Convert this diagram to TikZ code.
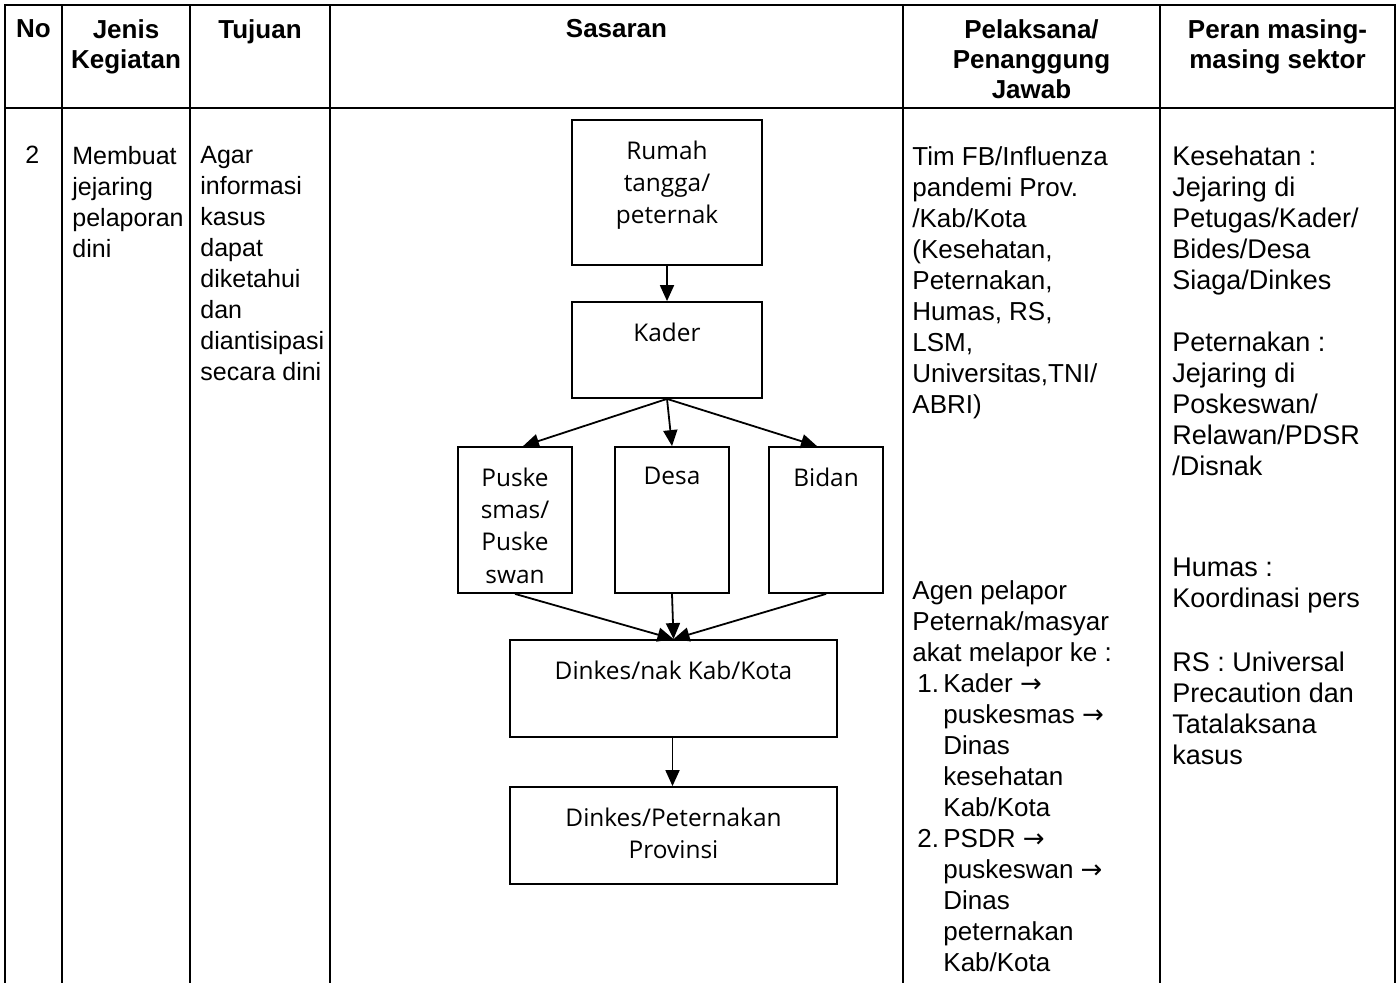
\documentclass[tikz,border=0pt]{standalone}
\usepackage{fontspec}
\setmainfont{Liberation Sans}
\newfontfamily\flowfont{Open Sans}
\newfontfamily\symfont{DejaVu Sans}
\usetikzlibrary{arrows.meta}
\newcommand{\isiteks}{\fontsize{12.5pt}{15.5pt}\selectfont}
\newcommand{\isilebar}{\fontsize{13pt}{15.5pt}\selectfont}
\newcommand{\isiperan}{\fontsize{13.5pt}{15.5pt}\selectfont}
\newcommand{\kepalateks}{\fontsize{13pt}{15pt}\selectfont\bfseries}
\newcommand{\bagan}{\flowfont\fontsize{12.2pt}{16.2pt}\selectfont}
\newcommand{\ke}{{\symfont →}}

\begin{document}
\begin{tikzpicture}[x=0.5pt, y=-0.5pt,
kepala/.style={anchor=north, align=center, font=\kepalateks, inner sep=0pt},
isi/.style={anchor=north west, align=left, font=\isiteks, inner sep=0pt},
kotak/.style={draw, line width=0.9pt, inner sep=0pt},
judul/.style={anchor=north, yshift=-10.5pt, align=center, font=\bagan, inner sep=0pt},
panah/.style={-{Triangle[length=8pt,width=7pt]}, line width=0.9pt}
]
\useasboundingbox (0,0) rectangle (1400,983);

    \draw [line width=1.1pt] (5,983) -- (5,5) -- (1395,5) -- (1395,983);
    \draw [line width=1.1pt] (5,108) -- (1395,108);
    \foreach \x in {62,190,330,903,1160}
        \draw [line width=1.1pt] (\x,5) -- (\x,983);

    \node [kepala] (hno) at (33.5,19) {No};
    \node [kepala] (hjenis) at (126,19) {Jenis\\Kegiatan};
    \node [kepala] (htujuan) at (260,19) {Tujuan};
    \node [kepala] (hsasaran) at (616.5,19) {Sasaran};
    \node [kepala] (hpelaksana) at (1031.5,19) {Pelaksana/\\Penanggung\\Jawab};
    \node [kepala] (hperan) at (1277.5,19) {Peran masing-\\masing sektor};

    \node [isi] (no) at (25,146) {2};
    \node [isi] (jenis) at (72,146) {Membuat\\jejaring\\pelaporan\\dini};
    \node [isi] (tujuan) at (200,146) {Agar\\informasi\\kasus\\dapat\\diketahui\\dan\\diantisipasi\\secara dini};

    \node [isi, font=\isilebar] (tim) at (912,146) {Tim FB/Influenza\\pandemi Prov.\\/Kab/Kota\\(Kesehatan,\\Peternakan,\\Humas, RS,\\LSM,\\Universitas,TNI/\\ABRI)};
    \node [isi, font=\isilebar] (agen) at (912,580) {Agen pelapor\\Peternak/masyar\\akat melapor ke :\\
        \hspace*{2.5pt}\makebox[13pt][l]{1.}Kader \ke\\
        \hspace*{15.5pt}puskesmas \ke\\
        \hspace*{15.5pt}Dinas\\
        \hspace*{15.5pt}kesehatan\\
        \hspace*{15.5pt}Kab/Kota\\
        \hspace*{2.5pt}\makebox[13pt][l]{2.}PSDR \ke\\
        \hspace*{15.5pt}puskeswan \ke\\
        \hspace*{15.5pt}Dinas\\
        \hspace*{15.5pt}peternakan\\
        \hspace*{15.5pt}Kab/Kota};

    \node [isi, font=\isiperan] (kesehatan) at (1172,146) {Kesehatan :\\Jejaring di\\Petugas/Kader/\\Bides/Desa\\Siaga/Dinkes};
    \node [isi, font=\isiperan] (peternakan) at (1172,332) {Peternakan :\\Jejaring di\\Poskeswan/\\Relawan/PDSR\\/Disnak};
    \node [isi, font=\isiperan] (humas) at (1172,558) {Humas :\\Koordinasi pers};
    \node [isi, font=\isiperan] (rs) at (1172,652) {RS : Universal\\Precaution dan\\Tatalaksana\\kasus};

    \node [kotak, minimum width=95pt, minimum height=72.5pt, label={[judul]north:{Rumah\\tangga/\\peternak}}] (rumah) at (667,192.5) {};
    \node [kotak, minimum width=95pt, minimum height=48pt, label={[judul]north:{Kader}}] (kader) at (667,350) {};
    \node [kotak, minimum width=57pt, minimum height=73pt, label={[judul]north:{Puske\\smas/\\Puske\\swan}}] (pusk) at (515,520) {};
    \node [kotak, minimum width=57pt, minimum height=73pt, label={[judul]north:{Desa}}] (desa) at (672,520) {};
    \node [kotak, minimum width=57pt, minimum height=73pt, label={[judul]north:{Bidan}}] (bidan) at (826,520) {};
    \node [kotak, minimum width=163.5pt, minimum height=48.5pt, label={[judul]north:{Dinkes/nak Kab/Kota}}] (kab) at (673.5,688.5) {};
    \node [kotak, minimum width=163.5pt, minimum height=48.5pt, label={[judul]north:{Dinkes/Peternakan\\Provinsi}}] (prov) at (673.5,835.5) {};

    \draw [panah] (rumah) -- (kader);
    \draw [panah] (kader.south) -- ([xshift=4pt]pusk.north);
    \draw [panah] (kader.south) -- (desa.north);
    \draw [panah] (kader.south) -- ([xshift=-4.5pt]bidan.north);
    \draw [panah] (pusk.south) -- (kab.north);
    \draw [panah] (desa.south) -- (kab.north);
    \draw [panah] (bidan.south) -- (kab.north);
    \draw [panah] ([xshift=-0.5pt]kab.south) -- ([xshift=-0.5pt]prov.north);

\end{tikzpicture}
\end{document}
